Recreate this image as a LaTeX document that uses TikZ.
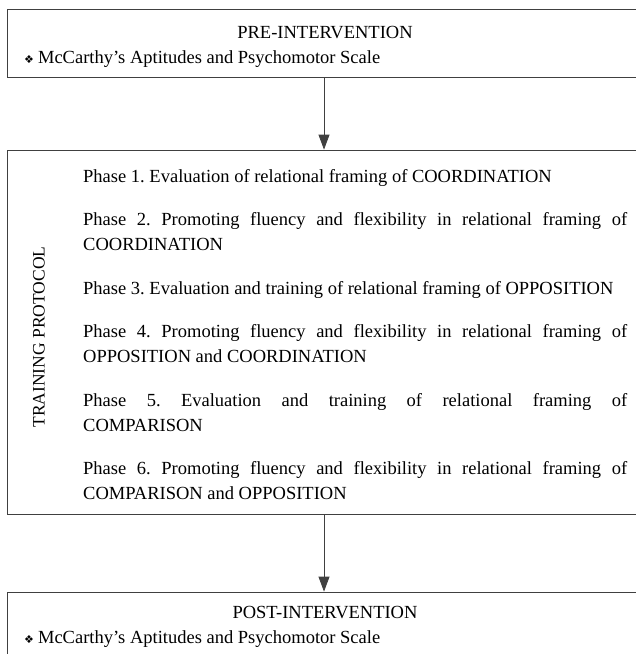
\documentclass[tikz,border=0pt]{standalone}
\usepackage{fontspec}
\setmainfont{Liberation Serif}
\newfontfamily\bulletfont{DejaVu Sans}
\usetikzlibrary{arrows.meta, positioning}
\frenchspacing
\tikzstyle{stagebox} = [rectangle, draw=black!75, line width=0.8pt, inner sep=0pt]
\tikzstyle{phase} = [anchor=base west, inner sep=0pt, text width=544pt, align=justify, font=\fontsize{18.5}{25}\selectfont]
\tikzstyle{label} = [inner sep=0pt, font=\fontsize{18.5}{21}\selectfont]
\tikzstyle{flow} = [-{Triangle[length=15pt, width=11pt]}, draw=black!75, line width=0.8pt]
\newcommand{\mccarthy}{{\bulletfont\fontsize{11}{11}\selectfont ❖}\hspace{4pt}McCarthy’s Aptitudes and Psychomotor Scale}

\begin{document}
\begin{tikzpicture}[x=1pt, y=1pt]
  \useasboundingbox (0,0) rectangle (636,-654);
  \clip (0,0) rectangle (636,-654);

  % stages
  \node[stagebox, minimum width=635pt, minimum height=68pt] (pre) at (324.5,-43) {};
  \node[stagebox, minimum width=635pt, minimum height=364pt] (train) at (324.5,-332) {};
  \node[stagebox, minimum width=635pt, minimum height=90pt] (post) at (324.5,-637) {};

  % pre
  \node[label, anchor=base] (pretitle) at (325,-38) {PRE-INTERVENTION};
  \node[label, anchor=base west] (pretest) at (24,-63) {\mccarthy};

  % training
  \node[label, rotate=90, font=\fontsize{17.5}{21}\selectfont] (traintitle) at (39,-337) {TRAINING PROTOCOL};
  \node[phase] (ph1) at (83,-182) {Phase 1. Evaluation of relational framing of COORDINATION};
  \node[phase] (ph2) at (83,-225.5) {Phase 2. Promoting fluency and flexibility in relational framing of\linebreak COORDINATION};
  \node[phase] (ph3) at (83,-294) {Phase 3. Evaluation and training of relational framing of OPPOSITION};
  \node[phase] (ph4) at (83,-337.5) {Phase 4. Promoting fluency and flexibility in relational framing of\linebreak OPPOSITION and COORDINATION};
  \node[phase] (ph5) at (83,-406) {Phase 5. Evaluation and training of relational framing of\linebreak COMPARISON};
  \node[phase] (ph6) at (83,-474.5) {Phase 6. Promoting fluency and flexibility in relational framing of\linebreak COMPARISON and OPPOSITION};

  % post
  \node[label, anchor=base] (posttitle) at (325,-618) {POST-INTERVENTION};
  \node[label, anchor=base west] (posttest) at (24,-643) {\mccarthy};

  % arrows
  \coordinate (axis) at (324,0);
  \draw[flow] (pre.south -| axis) -- (train.north -| axis);
  \draw[flow] (train.south -| axis) -- (post.north -| axis);
\end{tikzpicture}
\end{document}
